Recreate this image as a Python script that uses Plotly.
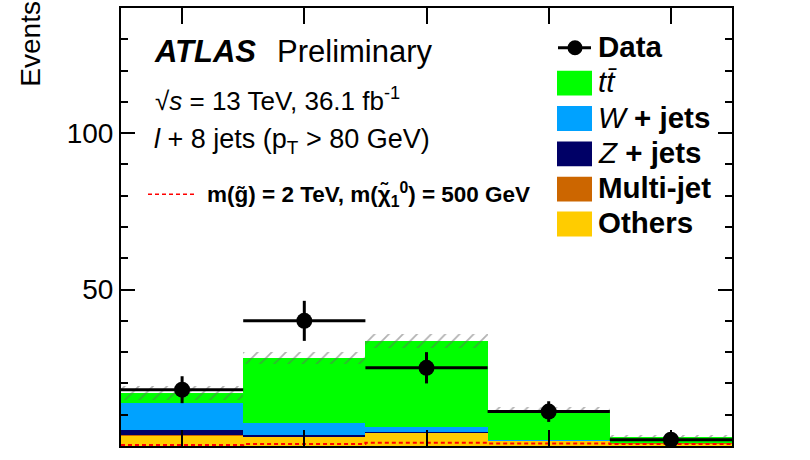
import plotly.graph_objects as go

# ---------------- data ----------------
bins = [0, 1, 2, 3, 4]
bin_edges = [-0.5, 0.5, 1.5, 2.5, 3.5, 4.5]
others = [3.2, 2.9, 4.2, 1.7, 0.9]
multijet = [0.2, 0.1, 0.2, 0.1, 0.1]
zjets = [1.7, 0.5, 0.1, 0.05, 0.0]
wjets = [8.5, 3.9, 1.5, 0.15, 0.1]
ttbar = [3.4, 20.8, 27.6, 9.4, 1.8]
bkg_unc = [2.2, 1.9, 2.3, 1.0, 0.5]
data = [18, 40, 25, 11, 2]
data_err = [4.3, 6.4, 5.0, 3.3, 1.5]
signal = [0.3, 0.6, 1.0, 0.8, 0.6]

components = [
    ("Others", others, "#FFCC00"),
    ("Multi-jet", multijet, "#CC6600"),
    ("Z + jets", zjets, "#000066"),
    ("W + jets", wjets, "#00A2FF"),
    ("ttbar", ttbar, "#00FF00"),
]

FONT = "Liberation Sans, Arial, Helvetica, sans-serif"

# plot-area geometry in pixels (for placing text/legend)
L, R, T, B = 121, 732, 6, 446
W, H = 810, 460


def px(x):
    return (x - L) / (R - L)


def py(y):
    return (B - y) / (B - T)


fig = go.Figure()

# stacked backgrounds
base = [0.0] * len(bins)
for name, vals, col in components:
    fig.add_trace(go.Bar(
        x=bins, y=vals, base=list(base), width=1.0,
        marker=dict(color=col, line=dict(width=0)),
        name=name, showlegend=False, hoverinfo="skip"))
    base = [b + v for b, v in zip(base, vals)]
total = base

# hatched uncertainty band
fig.add_trace(go.Bar(
    x=bins, y=[2 * u for u in bkg_unc],
    base=[t - u for t, u in zip(total, bkg_unc)], width=1.0,
    marker=dict(color="rgba(0,0,0,0)", line=dict(width=0),
                pattern=dict(shape="/", fgcolor="#666666",
                             bgcolor="rgba(0,0,0,0)", size=10, solidity=0.18)),
    showlegend=False, hoverinfo="skip"))

# signal (step line)
fig.add_trace(go.Scatter(
    x=bin_edges, y=signal + [signal[-1]], mode="lines", line_shape="hv",
    line=dict(color="#FF0000", width=2, dash="4px,3px"),
    showlegend=False, hoverinfo="skip"))

# data
fig.add_trace(go.Scatter(
    x=bins, y=data, mode="markers",
    marker=dict(color="black", size=16, symbol="circle"),
    error_y=dict(type="data", array=data_err, color="black", thickness=3, width=0),
    error_x=dict(type="constant", value=0.5, color="black", thickness=3, width=0),
    showlegend=False, hoverinfo="skip"))

ann = []
# y-axis title
ann.append(dict(x=px(31), y=py(87), xref="paper", yref="paper", text="Events",
                textangle=-90, xanchor="center", yanchor="bottom", showarrow=False,
                font=dict(family=FONT, size=28, color="black")))
# ATLAS label
ann.append(dict(x=px(152), y=py(50), xref="paper", yref="paper",
                text="<b><i>ATLAS</i></b>", xanchor="left", yanchor="middle",
                showarrow=False, font=dict(family=FONT, size=31, color="black")))
ann.append(dict(x=px(275), y=py(50), xref="paper", yref="paper",
                text="Preliminary", xanchor="left", yanchor="middle",
                showarrow=False, font=dict(family=FONT, size=31, color="black")))
ann.append(dict(x=px(153), y=py(98), xref="paper", yref="paper",
                text="√<i>s</i> = 13 TeV, 36.1 fb<sup>-1</sup>", xanchor="left",
                yanchor="middle", showarrow=False,
                font=dict(family=FONT, size=26, color="black")))
ann.append(dict(x=px(152), y=py(140), xref="paper", yref="paper",
                text="<i>l</i> + 8 jets (p<sub>T</sub> &gt; 80 GeV)", xanchor="left",
                yanchor="middle", showarrow=False,
                font=dict(family=FONT, size=27, color="black")))
ann.append(dict(x=px(205), y=py(193), xref="paper", yref="paper",
                text="<b>m(g̃) = 2 TeV, m(χ̃<sub>1</sub><sup>0</sup>) = 500 GeV</b>",
                xanchor="left", yanchor="middle", showarrow=False,
                font=dict(family=FONT, size=22.5, color="black")))

# legend (right)
leg_y = [46, 81.5, 117, 152.5, 188, 223]
leg_text = ["<b>Data</b>", "<i>t</i><i>t̄</i>", "<i>W</i> <b>+ jets</b>",
            "<i>Z</i> <b>+ jets</b>", "<b>Multi-jet</b>", "<b>Others</b>"]
for yy, tx in zip(leg_y, leg_text):
    ann.append(dict(x=px(596), y=py(yy - 1.5), xref="paper", yref="paper", text=tx,
                    xanchor="left", yanchor="middle", showarrow=False,
                    font=dict(family=FONT, size=29.5, color="black")))

shapes = []
leg_cols = ["#00FF00", "#00A2FF", "#000066", "#CC6600", "#FFCC00"]
for yy, col in zip(leg_y[1:], leg_cols):
    shapes.append(dict(type="rect", xref="paper", yref="paper",
                       x0=px(557), x1=px(592), y0=py(yy + 12.5), y1=py(yy - 12.5),
                       fillcolor=col, line=dict(width=0), layer="above"))
shapes.append(dict(type="line", xref="paper", yref="paper",
                   x0=px(558), x1=px(591), y0=py(leg_y[0]), y1=py(leg_y[0]),
                   line=dict(color="black", width=3), layer="above"))
shapes.append(dict(type="circle", xref="paper", yref="paper",
                   x0=px(567.5), x1=px(582.5), y0=py(leg_y[0] + 7.5), y1=py(leg_y[0] - 7.5),
                   fillcolor="black", line=dict(width=0), layer="above"))
# signal legend line
shapes.append(dict(type="line", xref="paper", yref="paper",
                   x0=px(148), x1=px(197), y0=py(193), y1=py(193),
                   line=dict(color="#FF0000", width=1.5, dash="4px,3px"), layer="above"))

fig.update_layout(
    width=W, height=H,
    margin=dict(l=L, r=W - R, t=T, b=H - B, pad=0),
    paper_bgcolor="white", plot_bgcolor="white",
    barmode="overlay", bargap=0,
    showlegend=False,
    annotations=ann, shapes=shapes,
    font=dict(family=FONT, color="black"),
)
fig.update_xaxes(
    range=[-0.5, 4.5], tickvals=bins, showticklabels=False,
    ticks="inside", ticklen=16, tickwidth=2, tickcolor="black",
    showline=True, linecolor="black", linewidth=2, mirror="allticks",
    showgrid=False, zeroline=False)
fig.update_yaxes(
    range=[0, 140], tickvals=[0, 50, 100],
    ticks="inside", ticklen=14, tickwidth=2, tickcolor="black",
    minor=dict(dtick=10, ticks="inside", ticklen=7, tickwidth=2, tickcolor="black"),
    tickfont=dict(family=FONT, size=28, color="black"),
    showline=True, linecolor="black", linewidth=2, mirror="allticks",
    showgrid=False, zeroline=False)

fig.write_html("out.html", config={"displayModeBar": False},
               post_script="document.body.style.margin='0';document.body.style.padding='0';")
